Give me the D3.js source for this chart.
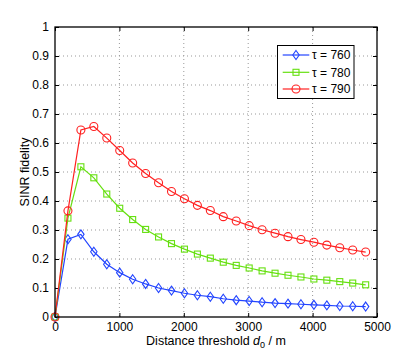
<!DOCTYPE html>
<html><head><meta charset="utf-8">
<script src="https://cdn.jsdelivr.net/npm/d3@7"></script>
<style>body{margin:0;background:#fff}svg{display:block}text{font-family:"Liberation Sans",Arial,sans-serif}</style>
</head><body><svg id="c" width="417" height="357"></svg>
<script>
const distances = [0,201,402,603,804,1005,1206,1407,1608,1809,2010,2211,2412,2613,2814,3015,3216,3417,3618,3819,4020,4221,4422,4623,4824];
const tau760 = [0,0.268,0.285,0.225,0.182,0.153,0.130,0.114,0.100,0.091,0.082,0.075,0.070,0.063,0.058,0.055,0.051,0.048,0.046,0.044,0.042,0.040,0.038,0.037,0.036];
const tau780 = [0,0.341,0.518,0.480,0.424,0.375,0.336,0.302,0.276,0.253,0.234,0.217,0.203,0.189,0.178,0.169,0.159,0.151,0.144,0.138,0.131,0.127,0.122,0.117,0.111];
const tau790 = [0,0.366,0.645,0.657,0.617,0.574,0.531,0.495,0.463,0.433,0.408,0.385,0.367,0.346,0.331,0.315,0.301,0.289,0.277,0.267,0.258,0.248,0.239,0.231,0.224];
const seriesNames = ["τ = 760","τ = 780","τ = 790"];
const xTicks = [0,1000,2000,3000,4000,5000];
const yTicks = [0,0.1,0.2,0.3,0.4,0.5,0.6,0.7,0.8,0.9,1];

const svg = d3.select("#c");
const L=55,R=377,T=27,B=317;
const x = d3.scaleLinear().domain([0,5000]).range([L,R]);
const y = d3.scaleLinear().domain([0,1]).range([B,T]);

// grid
const g = svg.append("g");
g.selectAll(".gx").data(xTicks.slice(1,-1)).enter().append("line")
 .attr("x1",d=>x(d)).attr("x2",d=>x(d)).attr("y1",T).attr("y2",B)
 .attr("stroke","#999").attr("stroke-width",1).attr("stroke-dasharray","1,3");
g.selectAll(".gy").data(yTicks.slice(1,-1)).enter().append("line")
 .attr("y1",d=>y(d)).attr("y2",d=>y(d)).attr("x1",L).attr("x2",R)
 .attr("stroke","#999").attr("stroke-width",1).attr("stroke-dasharray","1,3");

// axes
const fmtY = d=> d===0?"0":(d===1?"1":d3.format(".1f")(d));
const axB = d3.axisBottom(x).tickValues(xTicks).tickSize(-4).tickPadding(5).tickFormat(d3.format("d"));
const axT = d3.axisTop(x).tickValues(xTicks).tickSize(-4).tickFormat("");
const axLft = d3.axisLeft(y).tickValues(yTicks).tickSize(-4).tickPadding(6).tickFormat(fmtY);
const axRt = d3.axisRight(y).tickValues(yTicks).tickSize(-4).tickFormat("");
function style(sel){ sel.select(".domain").remove(); sel.selectAll("line").attr("stroke","#000");
 sel.selectAll("text").attr("font-size",12).attr("fill","#000").attr("font-family","Liberation Sans, Arial, sans-serif"); }
svg.append("g").attr("transform",`translate(0,${B})`).call(axB).call(style);
svg.append("g").attr("transform",`translate(0,${T})`).call(axT).call(style);
svg.append("g").attr("transform",`translate(${L},0)`).call(axLft).call(style);
svg.append("g").attr("transform",`translate(${R},0)`).call(axRt).call(style);

const colors = ["#2244ff","#66e010","#ff2020"];
const data = [tau760,tau780,tau790];
const line = d3.line().x((d,i)=>x(distances[i])).y(d=>y(d));

function marker(sel, k){
  if(k===0) sel.append("path").attr("d","M0,-4.5L3.2,0L0,4.5L-3.2,0Z");
  else if(k===1) sel.append("rect").attr("x",-3).attr("y",-3).attr("width",6).attr("height",6);
  else sel.append("circle").attr("r",4);
  sel.selectAll("*").attr("fill","none").attr("stroke",colors[k]).attr("stroke-width",1.1);
}

data.forEach((vals,k)=>{
  svg.append("path").datum(vals).attr("d",line).attr("fill","none").attr("stroke",colors[k]).attr("stroke-width",1.2);
  vals.forEach((v,i)=>{
    const m = svg.append("g").attr("transform",`translate(${x(distances[i])},${y(v)})`);
    marker(m,k);
  });
});

// box
svg.append("rect").attr("x",L).attr("y",T).attr("width",R-L).attr("height",B-T)
 .attr("fill","none").attr("stroke","#000").attr("stroke-width",1.3);

// legend
const lg = svg.append("g");
lg.append("rect").attr("x",277.5).attr("y",45.5).attr("width",76.5).attr("height",53)
 .attr("fill","#fff").attr("stroke","#000").attr("stroke-width",1);
const ly = [55,72.3,89];
seriesNames.forEach((n,k)=>{
  lg.append("line").attr("x1",282.7).attr("x2",309.3).attr("y1",ly[k]).attr("y2",ly[k]).attr("stroke",colors[k]).attr("stroke-width",1.2);
  const m = lg.append("g").attr("transform",`translate(296,${ly[k]})`); marker(m,k);
  lg.append("text").attr("x",312).attr("y",ly[k]+4.3).attr("font-size",12).text(n);
});

// labels
const xl = svg.append("text").attr("x",(L+R)/2).attr("y",345).attr("text-anchor","middle").attr("font-size",12.5);
xl.append("tspan").text("Distance threshold ");
xl.append("tspan").attr("font-style","italic").text("d");
xl.append("tspan").attr("font-size",9).attr("dy",3).text("0");
xl.append("tspan").attr("dy",-3).text(" / m");
svg.append("text").attr("transform",`translate(29,${(T+B)/2}) rotate(-90)`).attr("text-anchor","middle").attr("font-size",12.5).text("SINR fidelity");
</script></body></html>
